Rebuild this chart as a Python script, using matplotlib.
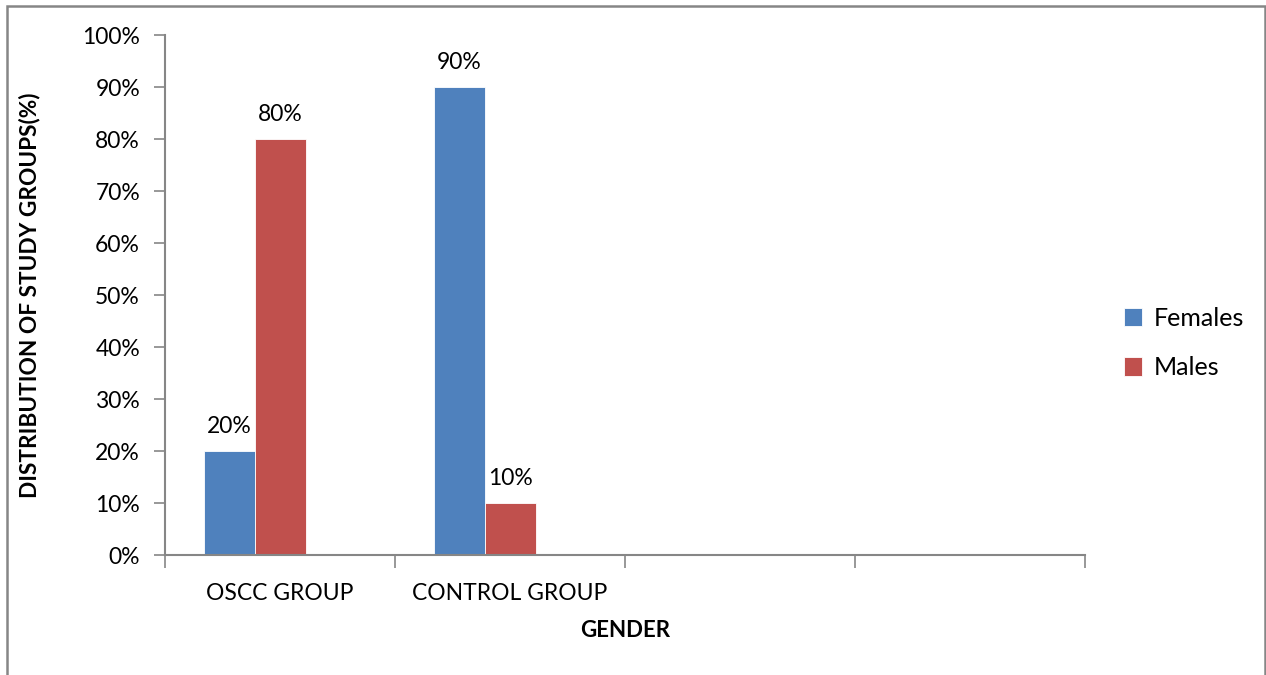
import numpy as np
import matplotlib
matplotlib.use("Agg")
import matplotlib.pyplot as plt
from matplotlib.patches import Rectangle

plt.rcParams['font.family'] = ['Lato', 'DejaVu Sans']

categories = ["OSCC GROUP", "CONTROL GROUP", "", ""]
females = [20, 90, np.nan, np.nan]
males = [80, 10, np.nan, np.nan]
series_names = ["Females", "Males"]
y_ticks = [0, 10, 20, 30, 40, 50, 60, 70, 80, 90, 100]

blue = "#4F81BD"
red = "#C0504D"
axis_gray = "#868686"

fig = plt.figure(figsize=(12.66, 6.75), dpi=100)
ax = fig.add_axes([165/1266, 1 - 555/675, 920/1266, 520/675])

# outer chart border (open at the bottom)
fig.patches.append(Rectangle((7/1266, -0.05), (1265-7)/1266, (675-6)/675 + 0.05,
                             transform=fig.transFigure, fill=False,
                             edgecolor=axis_gray, linewidth=1.8, clip_on=False))

x = np.arange(len(categories))
w = 51/230
# three slots per category; the third slot holds no data
b1 = ax.bar(x - w, females, width=w, color=blue, label=series_names[0],
            edgecolor="white", linewidth=0.6)
b2 = ax.bar(x, males, width=w, color=red, label=series_names[1],
            edgecolor="white", linewidth=0.6)

for bars, vals in ((b1, females), (b2, males)):
    for rect, v in zip(bars, vals):
        if np.isnan(v):
            continue
        ax.annotate(f"{v:.0f}%", (rect.get_x() + rect.get_width()/2, v),
                    xytext=(0, 10), textcoords="offset points",
                    ha="center", va="bottom", fontsize=16.5, color="black")

ax.set_xlim(-0.5, len(categories) - 0.5)
ax.set_ylim(0, 100)
ax.set_yticks(y_ticks)
ax.set_yticklabels([f"{t}%" for t in y_ticks], fontsize=16.5)
ax.set_xticks(x)
ax.set_xticklabels(categories, fontsize=16.5)
ax.tick_params(axis="x", length=0, pad=20)
ax.set_xticks(np.arange(len(categories) + 1) - 0.5, minor=True)
ax.tick_params(axis="x", which="minor", length=9, width=1.2, color=axis_gray, direction="out")
ax.tick_params(axis="y", length=8, width=1.2, color=axis_gray, direction="out", pad=10)

for s in ("top", "right"):
    ax.spines[s].set_visible(False)
for s in ("left", "bottom"):
    ax.spines[s].set_color(axis_gray)
    ax.spines[s].set_linewidth(1.5)

ax.set_ylabel("DISTRIBUTION OF STUDY GROUPS(%)", fontsize=16.3, fontweight="bold", labelpad=30)
ax.set_xlabel("GENDER", fontsize=16, fontweight="bold", labelpad=12)

leg = fig.legend(handles=[b1, b2], labels=series_names, loc="center left",
                 bbox_to_anchor=(1101/1266, 1 - 343/675), frameon=False,
                 fontsize=18, handlelength=0.75, handleheight=0.75,
                 labelspacing=1.05, handletextpad=0.45)

fig.savefig("out.png", dpi=100, facecolor="white")
